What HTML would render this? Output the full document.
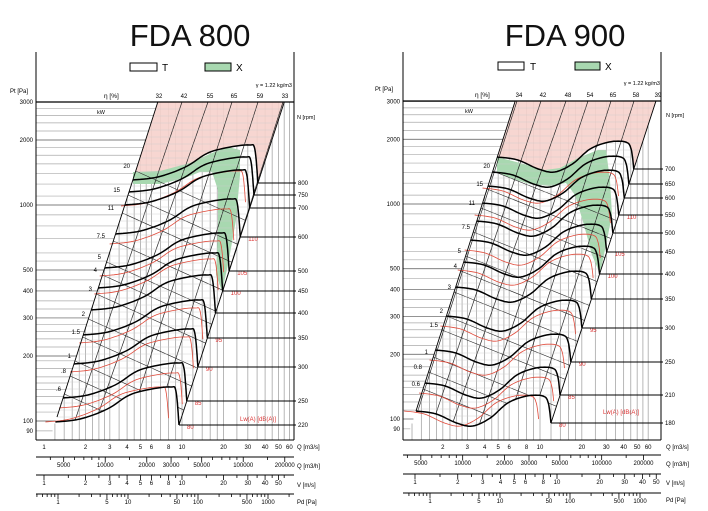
<!DOCTYPE html>
<html><head><meta charset="utf-8"><style>
html,body{margin:0;padding:0;background:#fff;width:708px;height:511px;overflow:hidden}
svg{display:block;font-family:"Liberation Sans",Arial,sans-serif}
</style></head><body>
<svg id="s" width="708" height="511" viewBox="0 0 708 511" xmlns="http://www.w3.org/2000/svg">
<text x="190" y="46" font-size="31" text-anchor="middle" fill="#111">FDA 800</text>
<text x="565" y="46" font-size="31" text-anchor="middle" fill="#111">FDA 900</text>
<rect x="130" y="63" width="27" height="8" fill="#fff" stroke="#000" stroke-width="1"/>
<text x="162" y="71" font-size="10">T</text>
<rect x="205" y="63" width="26" height="8" fill="#a8d8b0" stroke="#000" stroke-width="1"/>
<text x="236" y="71" font-size="10">X</text>
<rect x="498" y="62" width="26" height="8" fill="#fff" stroke="#000" stroke-width="1"/>
<text x="530" y="70" font-size="10">T</text>
<rect x="575" y="62" width="25" height="8" fill="#a8d8b0" stroke="#000" stroke-width="1"/>
<text x="605" y="70" font-size="10">X</text>
<text x="10" y="93" font-size="6">Pt [Pa]</text>
<text x="375" y="91" font-size="6">Pt [Pa]</text>
<text x="104" y="98" font-size="6.5">η [%]</text>
<text x="475" y="97" font-size="6.5">η [%]</text>
<text x="292" y="87" font-size="5.5" text-anchor="end">γ = 1.22 kg/m3</text>
<text x="660" y="85" font-size="5.5" text-anchor="end">γ = 1.22 kg/m3</text>
<text x="97" y="114" font-size="5.5">kW</text>
<text x="465" y="113" font-size="5.5">kW</text>
<text x="297" y="119" font-size="5.5">N [rpm]</text>
<text x="666" y="117" font-size="5.5">N [rpm]</text>
<text x="240" y="421" font-size="6" fill="#d33">Lw(A)  [dB(A)]</text>
<text x="603" y="414" font-size="6" fill="#d33">Lw(A)  [dB(A)]</text>
<text x="297" y="449" font-size="6">Q [m3/s]</text>
<text x="297" y="468" font-size="6">Q [m3/h]</text>
<text x="297" y="487" font-size="6">V [m/s]</text>
<text x="297" y="504" font-size="6">Pd [Pa]</text>
<text x="666" y="449" font-size="6">Q [m3/s]</text>
<text x="666" y="466" font-size="6">Q [m3/h]</text>
<text x="666" y="485" font-size="6">V [m/s]</text>
<text x="666" y="502" font-size="6">Pd [Pa]</text>
<g id="g"></g>
</svg>
<script>
var S=[];
function L(a,b,c,d,col,w){S.push('<line x1="'+a+'" y1="'+b+'" x2="'+c+'" y2="'+d+'" stroke="'+col+'" stroke-width="'+w+'"/>');}
function T(x,y,t,o){S.push('<text x="'+x+'" y="'+y+'" font-size="'+((o&&o.fs)||6)+'" text-anchor="'+((o&&o.a)||'middle')+'" fill="'+((o&&o.c)||'#000')+'">'+t+'</text>');}
function cr(p){var r=[];for(var i=0;i<p.length-1;i++){var p0=p[i-1]||p[i],p1=p[i],p2=p[i+1],p3=p[i+2]||p2;for(var k=0;k<8;k++){var t=k/8,t2=t*t,t3=t2*t;r.push([0.5*(2*p1[0]+(-p0[0]+p2[0])*t+(2*p0[0]-5*p1[0]+4*p2[0]-p3[0])*t2+(-p0[0]+3*p1[0]-3*p2[0]+p3[0])*t3),0.5*(2*p1[1]+(-p0[1]+p2[1])*t+(2*p0[1]-5*p1[1]+4*p2[1]-p3[1])*t2+(-p0[1]+3*p1[1]-3*p2[1]+p3[1])*t3)]);}}r.push(p[p.length-1]);return r;}
function pts(a){return a.map(function(p){return p[0].toFixed(1)+','+p[1].toFixed(1)}).join(' ');}
function PL(a,col,w,f){S.push('<polyline points="'+pts(a)+'" fill="'+(f||'none')+'" stroke="'+col+'" stroke-width="'+w+'" stroke-linejoin="round"/>');}
var cid=0;
function chart(c){
 var lg=Math.log10;
 function xL(y){return c.dx0+(c.dy0-y)*0.32;}
 function xD(y){return c.rx0+(c.ry0-y)*0.326;}
 function qx(q){return c.q1+c.qd*lg(q);}
 function py(p){return c.p100-c.pd*lg(p/100);}
 var hs=[90,100,110,120,130,140,150,160,175,190,200,220,240,260,280,300,330,360,400,450,500,550,600,700,800,900,1000,1100,1250,1400,1550,1700,1850,2000,2200,2400,2600,2800,3000];
 hs.forEach(function(p){var y=py(p);var xe=Math.max(c.x0,Math.min(xL(y),c.x1));L(c.x0,y,xe,y,[100,200,300,400,500,1000,2000,3000].indexOf(p)>=0?'#555':'#aaa',0.7);});
 [100,200,300,400,500,1000,2000,3000,90].forEach(function(p){T(c.x0-3,py(p)+2,p,{a:'end',fs:6});});
 var vs=[1,1.2,1.4,1.6,1.8,2,2.25,2.5,2.75,3,3.5,4,4.5,5,5.5,6,7,8,9,10,12,14,16,18,20,25,30,35,40,45,50,55,60];
 vs.forEach(function(q){var x=qx(q);if(x<c.x0+2||x>c.x1-1)return;var y=c.dy0-(x-c.dx0)/0.32;y=Math.max(c.yT,Math.min(y,c.yB));L(x,c.yB,x,y,'#999',0.7);});
 var cur=c.rpm.map(function(r){var yr=r[1],ys=yr+c.sh[0][1],xs=xL(ys),xe=xD(yr),w=xe-xs;var k=c.sh.map(function(s){return [xs+s[0]*w,yr+s[1]];});k.push([xe,yr]);return {r:r,p:cr(k),xs:xs,ys:ys,xe:xe,yr:yr};});
 var top=cur[0],bot=cur[cur.length-1];
 var pk=[[xL(c.yT),c.yT],[xD(c.yT),c.yT]].concat(top.p.slice().reverse());
 S.push('<polygon points="'+pts(pk)+'" fill="#f6d2cc" stroke="none" opacity="0.9"/>');
 S.push('<polygon points="'+pts(c.green)+'" fill="#a8d8b0" stroke="none"/>');
 cid++;var reg=[[xL(c.yT),c.yT],[xD(c.yT),c.yT],[bot.xe,bot.yr]].concat(bot.p.slice().reverse());
 S.push('<clipPath id="c'+cid+'"><polygon points="'+pts(reg)+'"/></clipPath><g clip-path="url(#c'+cid+')">');
 c.eff.forEach(function(e){var xt=e[0];L(xt,c.yT,xt-(c.yB-c.yT)*0.32*e[1],c.yB,'#222',0.7);});
 c.kw.forEach(function(k){var y=k[1]+3,x=xL(y);L(x,y,x+170,y+c.kws*170,'#222',0.6);});
 for(var y=c.yT+7;y<c.yB;y+=7){L(c.x0,y,c.x1,y,'#ccc',0.4);}
 S.push('</g>');
 c.red.forEach(function(rd){var cc=cur[rd[0]];var p=cc.p.map(function(q){return [q[0]+rd[1],q[1]+rd[2]];});PL(p.slice(0,p.length-2),'#e04a3a',0.8);T(cc.xe+8,cc.yr+4,rd[3],{c:'#d33',fs:6,a:'start'});});
 cur.forEach(function(cc){PL(cc.p,'#000',1.5);L(cc.xe,cc.yr,c.x1+2,cc.yr,'#000',1);T(c.x1+4,cc.yr+2,cc.r[0],{a:'start',fs:6});});
 L(xL(c.dy0),c.dy0,xL(c.yT),c.yT,'#000',0.9);L(xD(c.ry0),c.ry0,xD(c.yT),c.yT,'#000',0.9);
 c.kw.forEach(function(k){T(k[2],k[1],k[0],{a:'end',fs:6});});
 c.effl.forEach(function(e,i){T(c.eff[i][0]+2,c.yT-4,e,{fs:6});});
 L(c.x0,52,c.x0,c.yB,'#000',1);L(c.x1,52,c.x1,c.yB,'#000',1);L(c.x0,c.yT,c.x1,c.yT,'#000',1.3);L(c.x0,c.yB,c.x1,c.yB,'#000',1);
 c.ql.forEach(function(q){T(qx(q),c.yB+9,q);});
 var y2=c.sy[0];L(c.x0,y2,c.x1,y2,'#000',1);
 [3000,4000,5000,6000,7000,8000,9000,10000,15000,20000,30000,40000,50000,60000,70000,80000,90000,100000,150000,200000].forEach(function(v){var x=qx(v/3600);if(x>c.x0&&x<c.x1)L(x,y2,x,y2+([5000,10000,20000,30000,50000,100000,200000].indexOf(v)>=0?5:3),'#000',0.8);});
 [5000,10000,20000,30000,50000,100000,200000].forEach(function(v){T(qx(v/3600),y2+10,v);});
 var y3=c.sy[1];L(c.x0,y3,c.x1,y3,'#000',1);
 [1,1.5,2,2.5,3,3.5,4,5,6,7,8,9,10,15,20,25,30,35,40,45,50,55].forEach(function(v){var x=c.v1+c.vd*lg(v);if(x>c.x0&&x<c.x1)L(x,y3,x,y3+([1,2,3,4,5,6,8,10,20,30,40,50].indexOf(v)>=0?5:3),'#000',0.8);});
 [1,2,3,4,5,6,8,10,20,30,40,50].forEach(function(v){T(c.v1+c.vd*lg(v),y3+10,v);});
 var y4=c.sy[2];L(c.x0,y4,c.x1,y4,'#000',1);
 [0.5,0.6,0.7,0.8,0.9,1,2,3,4,5,6,7,8,9,10,20,30,40,50,60,70,80,90,100,200,300,400,500,600,700,800,900,1000,2000].forEach(function(v){var x=c.d1+70*lg(v);if(x>c.x0&&x<c.x1)L(x,y4,x,y4+([1,5,10,50,100,500,1000].indexOf(v)>=0?5:3),'#000',0.8);});
 [1,5,10,50,100,500,1000].forEach(function(v){T(c.d1+70*lg(v),y4+10,v);});
}
var rise=[[0,-3],[0.2,-6],[0.42,-16],[0.6,-30],[0.78,-36],[0.93,-38],[0.975,-34]];
var dip=[[0,-12],[0.15,-9],[0.3,0],[0.42,3],[0.55,-5],[0.68,-20],[0.82,-27],[0.94,-27],[0.98,-20]];
chart({x0:36,x1:294,yT:102,yB:440,dx0:57,dy0:417,rx0:179,ry0:425,q1:44,qd:138,p100:421,pd:216,sh:rise,
 rpm:[[800,183],[750,195],[700,208],[600,237],[500,271],[450,291],[400,313],[350,338],[300,367],[250,401],[220,425]],
 green:[[133,172],[160,171],[190,163],[212,153],[228,147],[240,150],[240,175],[236,220],[228,265],[222,291],[216,275],[218,230],[218,190],[212,172],[200,172],[185,178],[160,184],[133,184]],
 eff:[[157,1],[182,1.05],[208,1.1],[232,1.0],[258,1],[283,1]],effl:[32,42,55,65,59,33],
 kw:[['20',168,130],['15',192,120],['11',210,114],['7.5',238,105],['5',259,101],['4',272,97],['3',291,92],['2',316,85],['1.5',334,80],['1',358,71],['.8',373,66],['.6',391,61]],kws:0.45,
 red:[[1,-8,14,''],[3,-6,10,'110'],[4,-5,8,'105'],[5,-4,6,'100'],[7,-4,8,'95'],[8,-4,8,'90'],[9,-4,10,'85'],[10,-10,0,'80']],
 ql:[1,2,3,4,5,6,8,10,20,30,40,50,60],sy:[457,475,494],v1:44,vd:138,d1:58});
chart({x0:403,x1:661,yT:101,yB:440,dx0:416,dy0:411,rx0:551,ry0:423,q1:401,qd:139,p100:419,pd:215,sh:dip,
 rpm:[[700,169],[650,184],[600,198],[550,215],[500,233],[450,252],[400,274],[350,299],[300,328],[250,362],[210,395],[180,423]],
 green:[[497,157],[520,163],[545,170],[560,168],[578,158],[598,150],[606,150],[610,180],[612,215],[606,245],[600,274],[592,255],[584,225],[575,195],[566,183],[550,186],[530,184],[510,178],[497,172]],
 eff:[[517,1],[541,1.05],[566,1.1],[588,1.05],[611,1],[634,1],[656,1]],effl:[34,42,48,54,65,58,39],
 kw:[['20',168,490],['15',186,483],['11',205,475],['7.5',229,470],['5',253,461],['4',268,457],['3',289,451],['2',313,443],['1.5',327,438],['1',354,428],['0.8',369,422],['0.6',386,420]],kws:0.4,
 red:[[1,-10,16,''],[3,-8,12,'110'],[5,-6,10,'105'],[6,-6,8,'100'],[8,-6,10,'95'],[9,-6,10,'90'],[10,-6,10,'85'],[11,-12,0,'80']],
 ql:[2,3,4,5,6,8,10,20,30,40,50,60],sy:[455,474,493],v1:415,vd:142,d1:430});
document.getElementById('g').innerHTML=S.join('');
</script>
</body></html>
